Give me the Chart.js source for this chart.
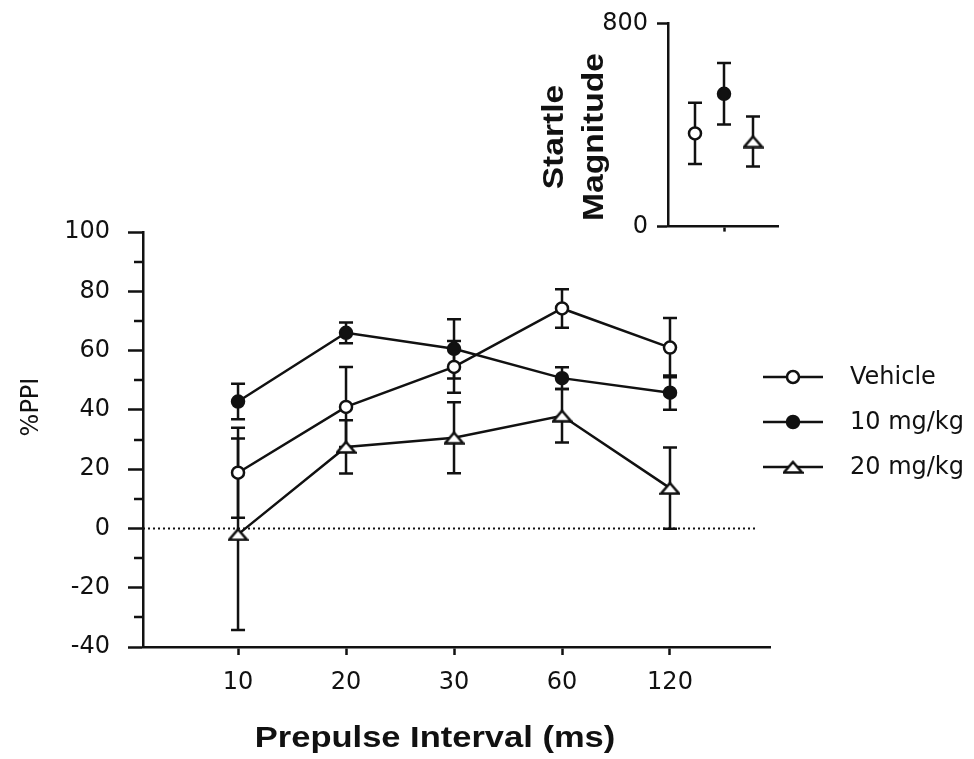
<!DOCTYPE html>
<html>
<head>
<meta charset="utf-8">
<script src="https://cdn.jsdelivr.net/npm/chart.js@4"></script>
<style>
  body { margin: 0; background: #fff; }
  #wrap { position: relative; width: 974px; height: 759px; }
  #inset { position: absolute; left: 520px; top: 0; }
</style>
</head>
<body>
<div id="wrap">
  <canvas id="mainChart" width="974" height="759"></canvas>
  <canvas id="inset" width="280" height="250"></canvas>
</div>
<script>
"use strict"
// Daten
const intervals = ["10", "20", "30", "60", "120"]
const vehicle = [18.8, 41, 54.5, 74.2, 61]
const vehicleSem = [15.2, 13.5, 8.7, 6.5, 10]
const dose10 = [42.8, 66, 60.6, 50.7, 45.8]
const dose10Sem = [6, 3.5, 10, 3.7, 5.8]
const dose20 = [-2, 27.5, 30.6, 38, 13.6]
const dose20Sem = [32.3, 9, 12, 9, 13.7]
const seriesNames = ["Vehicle", "10 mg/kg", "20 mg/kg"]
const yTicksMain = [-40, -20, 0, 20, 40, 60, 80, 100]

// Startle-Inset
const startle = [367, 523, 335]
const startleSem = [121, 121, 98]
const yTicksInset = [0, 800]

const ink = '#111'
const lw = 2.5
Chart.defaults.font.family = 'DejaVu Sans'
Chart.defaults.font.size = 24
Chart.defaults.color = ink

// flaches Dreieck als Marker
function makeTriangle() {
    const c = document.createElement('canvas')
    c.width = 21; c.height = 14
    const g = c.getContext('2d')
    g.beginPath()
    g.moveTo(10.5, 2); g.lineTo(19.5, 12.5); g.lineTo(1.5, 12.5); g.closePath()
    g.fillStyle = '#fff'; g.fill()
    g.lineWidth = 2.5; g.strokeStyle = ink; g.stroke()
    return c
}
const triangle = makeTriangle()

const toPoints = arr => arr.map((v, i) => ({ x: i + 1, y: v }))

// Fehlerbalken (SEM)
const errorBars = {
    id: 'errorBars',
    beforeDatasetsDraw(chart) {
        const ctx = chart.ctx, ys = chart.scales.y
        ctx.save()
        ctx.strokeStyle = ink
        ctx.lineWidth = lw
        chart.data.datasets.forEach((ds, di) => {
            if (!ds.errors) return
            chart.getDatasetMeta(di).data.forEach((pt, i) => {
                const m = ds.data[i].y, e = ds.errors[i]
                const top = ys.getPixelForValue(m + e), bot = ys.getPixelForValue(m - e)
                ctx.beginPath()
                ctx.moveTo(pt.x, top); ctx.lineTo(pt.x, bot)
                ctx.moveTo(pt.x - 7, top); ctx.lineTo(pt.x + 7, top)
                ctx.moveTo(pt.x - 7, bot); ctx.lineTo(pt.x + 7, bot)
                ctx.stroke()
            })
        })
        ctx.restore()
    }
}

function drawMarker(ctx, kind, x, y) {
    if (kind === 'tri') {
        ctx.drawImage(triangle, x - 10.5, y - 7)
        return
    }
    ctx.beginPath()
    ctx.arc(x, y, 6, 0, Math.PI * 2)
    ctx.fillStyle = kind === 'filled' ? ink : '#fff'
    ctx.fill()
    ctx.lineWidth = lw
    ctx.strokeStyle = ink
    ctx.stroke()
}

// Beschriftungen, Nebenstriche, Legende
const mainExtras = {
    id: 'mainExtras',
    afterDraw(chart) {
        const ctx = chart.ctx, ys = chart.scales.y, left = chart.chartArea.left
        ctx.save()
        ctx.strokeStyle = ink
        ctx.lineWidth = lw
        for (let v = -30; v < 100; v += 20) {
            const y = Math.round(ys.getPixelForValue(v))
            ctx.beginPath(); ctx.moveTo(left - 9, y); ctx.lineTo(left, y); ctx.stroke()
        }
        ctx.fillStyle = ink
        // %PPI
        ctx.save()
        ctx.translate(38, 407)
        ctx.rotate(-Math.PI / 2)
        ctx.font = '24px "DejaVu Sans"'
        ctx.textAlign = 'center'
        ctx.textBaseline = 'alphabetic'
        ctx.fillText('%PPI', 0, 0)
        ctx.restore()
        // x-Titel
        ctx.save()
        ctx.translate(435, 747)
        ctx.scale(1.15, 1)
        ctx.font = 'bold 30px "Liberation Sans"'
        ctx.textAlign = 'center'
        ctx.fillText('Prepulse Interval (ms)', 0, 0)
        ctx.restore()
        // Legende
        const kinds = ['open', 'filled', 'tri']
        seriesNames.forEach((name, i) => {
            const y = 377 + i * 45
            ctx.lineWidth = lw
            ctx.strokeStyle = ink
            ctx.beginPath(); ctx.moveTo(763, y); ctx.lineTo(823, y); ctx.stroke()
            drawMarker(ctx, kinds[i], 793, y)
            ctx.fillStyle = ink
            ctx.font = '24px "DejaVu Sans"'
            ctx.textAlign = 'left'
            ctx.textBaseline = 'middle'
            ctx.fillText(name, 850, y + 1)
        })
        ctx.restore()
    }
}

const lineStyle = { borderColor: ink, borderWidth: lw, pointBorderColor: ink, pointBorderWidth: lw }

new Chart(document.getElementById('mainChart'), {
    type: 'line',
    data: {
        datasets: [
            { label: seriesNames[0], data: toPoints(vehicle), errors: vehicleSem, ...lineStyle,
              pointStyle: 'circle', pointRadius: 6, pointBackgroundColor: '#fff', order: 2 },
            { label: seriesNames[1], data: toPoints(dose10), errors: dose10Sem, ...lineStyle,
              pointStyle: 'circle', pointRadius: 6, pointBackgroundColor: ink, order: 1 },
            { label: seriesNames[2], data: toPoints(dose20), errors: dose20Sem, ...lineStyle,
              pointStyle: triangle, pointRadius: 8, order: 3 },
            { label: 'zero', data: [{ x: 0.12, y: 0 }, { x: 5.79, y: 0 }], borderColor: ink,
              borderWidth: 2, borderDash: [2, 3], pointRadius: 0, order: 10 }
        ]
    },
    options: {
        responsive: false,
        animation: false,
        events: [],
        layout: { padding: { left: 0, top: 232, right: 204, bottom: 0 } },
        plugins: { legend: { display: false }, tooltip: { enabled: false } },
        scales: {
            x: {
                type: 'linear', min: 0.12, max: 5.926,
                afterBuildTicks: s => { s.ticks = intervals.map((_, i) => ({ value: i + 1 })) },
                afterFit: s => { s.height = 112 },
                ticks: { callback: v => intervals[Math.round(v) - 1], padding: 13, maxRotation: 0 },
                grid: { drawOnChartArea: false, tickLength: 8, tickWidth: lw, tickColor: ink },
                border: { color: ink, width: lw }
            },
            y: {
                min: -40, max: 100,
                afterBuildTicks: s => { s.ticks = yTicksMain.map(v => ({ value: v })) },
                afterFit: s => { s.width = 143 },
                ticks: { padding: 18 },
                grid: { drawOnChartArea: false, tickLength: 15, tickWidth: lw, tickColor: ink },
                border: { color: ink, width: lw }
            }
        }
    },
    plugins: [errorBars, mainExtras]
})

// Inset: Startle Magnitude
const insetExtras = {
    id: 'insetExtras',
    afterDraw(chart) {
        const ctx = chart.ctx
        ctx.save()
        ctx.fillStyle = ink
        ctx.font = 'bold 30px "Liberation Sans"'
        ctx.textAlign = 'center'
        ctx.textBaseline = 'alphabetic'
        const words = [['Startle', 563 - 520], ['Magnitude', 603 - 520]]
        words.forEach(([w, x]) => {
            ctx.save()
            ctx.translate(x, 137)
            ctx.rotate(-Math.PI / 2)
            ctx.scale(1.12, 1)
            ctx.fillText(w, 0, 0)
            ctx.restore()
        })
        ctx.restore()
    }
}

new Chart(document.getElementById('inset'), {
    type: 'line',
    data: {
        datasets: [{
            data: toPoints(startle),
            errors: startleSem,
            showLine: false,
            pointStyle: ['circle', 'circle', triangle],
            pointRadius: [6, 6, 8],
            pointBackgroundColor: ['#fff', ink, '#fff'],
            pointBorderColor: ink,
            pointBorderWidth: lw
        }]
    },
    options: {
        responsive: false,
        animation: false,
        events: [],
        layout: { padding: { left: 0, top: 16, right: 22, bottom: 0 } },
        plugins: { legend: { display: false }, tooltip: { enabled: false } },
        scales: {
            x: {
                type: 'linear', min: 0.069, max: 3.862,
                afterBuildTicks: s => { s.ticks = [{ value: 2 }] },
                afterFit: s => { s.height = 23 },
                ticks: { callback: () => '' },
                grid: { drawOnChartArea: false, tickLength: 5, tickWidth: lw, tickColor: ink },
                border: { color: ink, width: lw }
            },
            y: {
                min: 0, max: 800,
                afterBuildTicks: s => { s.ticks = yTicksInset.map(v => ({ value: v })) },
                afterFit: s => { s.width = 148 },
                ticks: { padding: 9 },
                grid: { drawOnChartArea: false, tickLength: 11, tickWidth: lw, tickColor: ink },
                border: { color: ink, width: lw }
            }
        }
    },
    plugins: [errorBars, insetExtras]
})
</script>
</body>
</html>
